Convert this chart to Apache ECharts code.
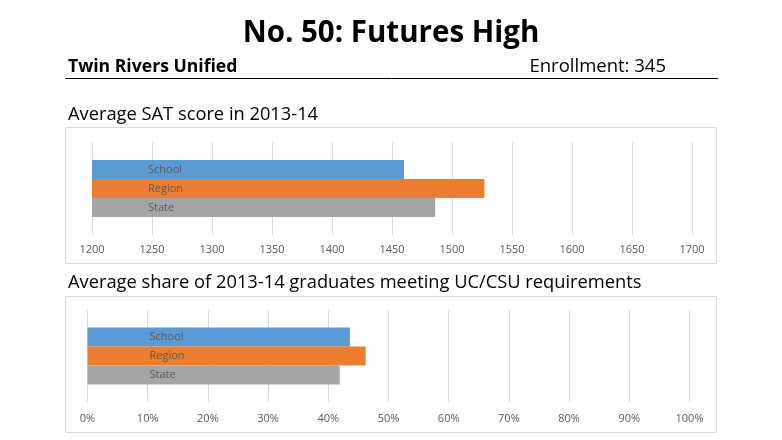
<!DOCTYPE html>
<html>
<head>
<meta charset="utf-8">
<script src="https://cdn.jsdelivr.net/npm/echarts@6/dist/echarts.min.js"></script>
<style>html,body{margin:0;padding:0;background:#fff;}#c{width:782px;height:440px;}</style>
</head>
<body>
<div id="c"></div>
<script>
const seriesNames = ['School', 'Region', 'State'];
const seriesColors = ['#5B9BD5', '#ED7D31', '#A5A5A5'];
const satValues = [1460, 1527, 1486];
const ucValues = [43.6, 46.2, 41.9];
const satAxis = { min: 1200, max: 1700, interval: 50 };
const ucAxis = { min: 0, max: 100, interval: 10 };
const titleText = 'No. 50: Futures High';
const districtText = 'Twin Rivers Unified';
const enrollmentText = 'Enrollment: 345';
const chart1Title = 'Average SAT score in 2013-14';
const chart2Title = 'Average share of 2013-14 graduates meeting UC/CSU requirements';

const FONT = 'Open Sans';
const chart = echarts.init(document.getElementById('c'), null, { renderer: 'canvas' });

function makeSeries(values, gridIdx, labelOffset) {
  return seriesNames.map((name, i) => ({
    name: name,
    type: 'bar',
    xAxisIndex: gridIdx,
    yAxisIndex: gridIdx,
    data: [values[i]],
    barWidth: 19,
    barGap: '0%',
    itemStyle: { color: seriesColors[i] },
    label: {
      show: true,
      position: [labelOffset, '50%'],
      verticalAlign: 'middle',
      formatter: name,
      color: '#595959',
      fontSize: 11,
      fontFamily: FONT
    },
    silent: true
  }));
}

function valueAxis(gridIdx, cfg, fmt, margin) {
  return {
    type: 'value', gridIndex: gridIdx, min: cfg.min, max: cfg.max, interval: cfg.interval,
    axisLine: { show: false }, axisTick: { show: false },
    splitLine: { show: true, lineStyle: { color: '#D9D9D9', width: 1 } },
    axisLabel: { color: '#595959', fontSize: 11, fontFamily: FONT, margin: margin, formatter: fmt }
  };
}

const option = {
  animation: false,
  grid: [
    { left: 92, width: 600, top: 142, height: 93 },
    { left: 87.5, width: 602, top: 310, height: 92 }
  ],
  xAxis: [
    valueAxis(0, satAxis, v => String(v), 9),
    valueAxis(1, ucAxis, v => v + '%', 11)
  ],
  yAxis: [
    { type: 'category', gridIndex: 0, data: [''], inverse: true, show: false },
    { type: 'category', gridIndex: 1, data: [''], inverse: true, show: false }
  ],
  series: [].concat(makeSeries(satValues, 0, 56), makeSeries(ucValues, 1, 62)),
  graphic: [
    { type: 'rect', shape: { x: 65.5, y: 127.5, width: 651, height: 136 }, style: { fill: 'none', stroke: '#D9D9D9', lineWidth: 1 }, z: -1 },
    { type: 'rect', shape: { x: 65.5, y: 296.5, width: 651, height: 136 }, style: { fill: 'none', stroke: '#D9D9D9', lineWidth: 1 }, z: -1 },
    { type: 'line', shape: { x1: 65, y1: 78.5, x2: 718, y2: 78.5 }, style: { stroke: '#000', lineWidth: 1 } },
    { type: 'text', x: 391, y: 19, style: { text: titleText, font: 'bold 29.5px ' + FONT, fill: '#000', textAlign: 'center' } },
    { type: 'text', left: 68, top: 58, style: { text: districtText, font: 'bold 17.6px ' + FONT, fill: '#000' } },
    { type: 'text', right: 116, top: 57, style: { text: enrollmentText, font: '18.5px ' + FONT, fill: '#000' } },
    { type: 'text', left: 68, top: 106, style: { text: chart1Title, font: '18.3px ' + FONT, fill: '#000' } },
    { type: 'text', left: 68, top: 274, style: { text: chart2Title, font: '18.3px ' + FONT, fill: '#000' } }
  ]
};
chart.setOption(option);
</script>
</body>
</html>
